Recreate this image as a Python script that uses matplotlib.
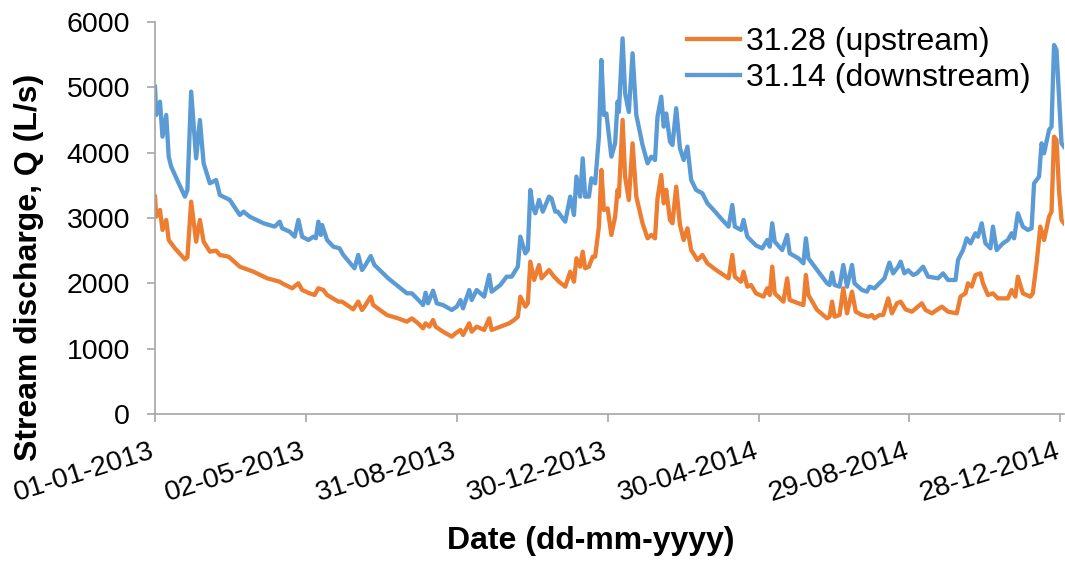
import matplotlib
matplotlib.use("Agg")
import matplotlib.pyplot as plt
import matplotlib.transforms as mtransforms
import numpy as np
import datetime as dt

plt.rcParams['font.family'] = ['Liberation Sans', 'DejaVu Sans']

# ---- data (day offsets from 01-01-2013, discharge in L/s) ----
start_date = dt.date(2013, 1, 1)

up_days = [0, 1, 4, 6, 9, 11, 16, 24, 26, 29, 33, 36, 39, 44, 49, 52, 59, 68, 79, 90,
           100, 102, 110, 115, 118, 124, 128, 131, 135, 138, 147, 150, 159, 163, 166, 168,
           173, 175, 186, 195, 202, 206, 211, 215, 217, 220, 223, 225, 231, 238, 241, 245,
           247, 252, 254, 258, 264, 268, 270, 277, 284, 288, 291, 293, 297, 299, 301, 304,
           308, 310, 316, 320, 324, 329, 333, 336, 338, 341, 343, 345, 348, 351, 353, 356,
           358, 360, 363, 366, 369, 371, 372, 375, 377, 380, 383, 386, 391, 395, 398, 401,
           403, 406, 408, 410, 413, 415, 418, 421, 424, 427, 430, 435, 439, 443, 450, 456,
           460, 463, 465, 470, 472, 475, 478, 482, 488, 491, 493, 495, 497, 504, 507, 509,
           516, 520, 522, 524, 531, 539, 541, 543, 545, 549, 552, 555, 559, 562, 567, 572,
           575, 577, 581, 584, 588, 591, 595, 598, 602, 607, 615, 618, 623, 631, 636, 643,
           646, 650, 652, 655, 658, 662, 664, 668, 672, 676, 684, 687, 690, 692, 696, 702,
           704, 707, 710, 713, 717, 719, 721, 723, 725, 727, 729]
up_vals = [3327, 3020, 3123, 2817, 2970, 2663, 2536, 2367, 2400, 3250, 2638, 2970, 2638, 2485, 2500, 2434, 2408, 2255, 2178, 2077,
           2025, 2000, 1924, 2000, 1898, 1847, 1822, 1924, 1898, 1822, 1720, 1720, 1602, 1720, 1592, 1643,
           1796, 1668, 1515, 1464, 1413, 1464, 1388, 1311, 1388, 1337, 1439, 1337, 1260, 1184, 1235, 1286,
           1209, 1388, 1260, 1337, 1286, 1464, 1286, 1337, 1388, 1439, 1490, 1796, 1643, 1694, 2332, 2051,
           2281, 2077, 2204, 2102, 2025, 1949, 2178, 2025, 2383, 2255, 2485, 2230, 2255, 2408, 2408, 2868,
           3735, 3123, 3148, 2740, 3020, 3429, 3327, 4500, 3633, 3276, 4143, 3327, 2919, 2689, 2740, 2689,
           3301, 3658, 3225, 3429, 2970, 2919, 3480, 2893, 2663, 2842, 2510, 2357, 2434, 2306, 2204, 2128,
           2077, 2434, 2102, 2025, 2179, 1949, 1975, 1847, 1796, 1924, 1822, 2255, 1847, 1720, 2077, 1745,
           1694, 1668, 2128, 1822, 1592, 1464, 1490, 1720, 1490, 1515, 1924, 1541, 1873, 1566, 1515, 1490,
           1515, 1464, 1515, 1515, 1770, 1541, 1694, 1720, 1600, 1566, 1694, 1592, 1541, 1643, 1566, 1541,
           1796, 1847, 2000, 1949, 2128, 2153, 2000, 1822, 1847, 1770, 1770, 1898, 1796, 2102, 1847, 1796,
           1847, 2306, 2868, 2663, 3020, 3097, 4245, 4194, 3429, 2970, 2919]

down_days = [0, 1, 4, 6, 9, 11, 13, 19, 24, 26, 29, 33, 36, 39, 44, 49, 52, 60, 68, 71,
             76, 87, 96, 100, 102, 108, 112, 115, 118, 123, 127, 129, 131, 133, 134, 138, 143, 148,
             151, 160, 163, 166, 168, 173, 176, 187, 197, 202, 206, 210, 215, 217, 219, 223, 226,
             231, 238, 242, 245, 247, 252, 254, 258, 264, 268, 270, 277, 282, 286, 291, 293, 297,
             299, 301, 303, 305, 308, 311, 316, 318, 321, 323, 329, 333, 336, 338, 341, 343, 345,
             348, 350, 353, 356, 358, 360, 362, 366, 369, 371, 372, 375, 377, 380, 383, 386, 391,
             395, 398, 401, 403, 406, 408, 410, 413, 415, 418, 421, 424, 427, 430, 434, 439, 443,
             448, 455, 460, 463, 465, 470, 472, 475, 482, 487, 491, 493, 495, 497, 503, 507, 509,
             516, 520, 522, 524, 532, 539, 541, 543, 545, 549, 552, 555, 559, 561, 567, 571, 573,
             577, 581, 585, 589, 592, 596, 598, 601, 604, 608, 611, 616, 620, 628, 632, 636, 642,
             644, 648, 651, 654, 658, 660, 663, 666, 670, 672, 675, 680, 684, 687, 689, 692, 696,
             700, 703, 705, 709, 711, 713, 717, 719, 721, 723, 725, 727, 729]
down_vals = [5010, 4577, 4780, 4245, 4577, 3939, 3786, 3531, 3327, 3430, 4935, 3913, 4500, 3837, 3531, 3582, 3352, 3276, 3046, 3097,
             3020, 2919, 2868, 2944, 2842, 2791, 2714, 2970, 2714, 2663, 2714, 2690, 2944, 2740, 2893, 2663, 2561, 2536,
             2434, 2230, 2434, 2204, 2255, 2418, 2281, 2077, 1924, 1847, 1847, 1770, 1668, 1857, 1694, 1888, 1694,
             1668, 1592, 1643, 1745, 1617, 1898, 1745, 1898, 1796, 2128, 1872, 1975, 2102, 2102, 2255, 2714, 2459,
             2510, 3429, 3173, 3072, 3276, 3097, 3327, 3300, 3097, 3097, 2944, 3327, 3046, 3633, 3327, 3913, 3327,
             3327, 3608, 3531, 4245, 5419, 4577, 4600, 3939, 4143, 4781, 4623, 5750, 4909, 4623, 5521, 4577, 4117,
             3837, 3939, 3888, 4551, 4857, 4398, 4600, 4168, 4117, 4680, 4066, 3888, 4092, 3582, 3429, 3378, 3225,
             3123, 2970, 2868, 3199, 2868, 2817, 2970, 2714, 2580, 2536, 2663, 2561, 2919, 2638, 2510, 2740, 2459,
             2383, 2306, 2689, 2383, 2178, 2000, 1975, 2163, 1975, 1949, 2281, 1949, 2281, 2000, 1898, 1873, 1949,
             1924, 2000, 2077, 2317, 2153, 2255, 2332, 2153, 2200, 2128, 2153, 2255, 2102, 2077, 2153, 2051, 2051,
             2357, 2510, 2689, 2612, 2766, 2714, 2919, 2612, 2536, 2868, 2510, 2612, 2663, 2766, 2689, 3072, 2868,
             2817, 2842, 3531, 3633, 4143, 3990, 4347, 4398, 5648, 5572, 4857, 4143, 4092]

series_labels = ['31.28 (upstream)', '31.14 (downstream)']
tick_days = [0, 121, 242, 363, 484, 605, 726]
tick_labels = ['01-01-2013', '02-05-2013', '31-08-2013', '30-12-2013',
               '30-04-2014', '29-08-2014', '28-12-2014']
y_ticks = [0, 1000, 2000, 3000, 4000, 5000, 6000]

# ---- plotting ----
def to_dates(days):
    return [start_date + dt.timedelta(days=int(d)) for d in days]

W, H = 1065, 561
AX_L, AX_R, AX_T, AX_B = 155, 1064, 22, 414
fig = plt.figure(figsize=(W / 100, H / 100), dpi=100)
ax = fig.add_axes([AX_L / W, 1 - AX_B / H, (AX_R - AX_L) / W, (AX_B - AX_T) / H])

orange = '#ED7D31'
blue = '#5B9BD5'
ax.plot(to_dates(up_days), up_vals, color=orange, lw=3.1, label=series_labels[0],
        solid_joinstyle='round')
ax.plot(to_dates(down_days), down_vals, color=blue, lw=3.1, label=series_labels[1],
        solid_joinstyle='round')

ax.set_xlim(start_date, start_date + dt.timedelta(days=729))
ax.set_ylim(0, 6000)
ax.set_yticks(y_ticks)
ax.set_yticklabels([str(v) for v in y_ticks], fontsize=20.5)
tick_dates = to_dates(tick_days)
ax.set_xticks(tick_dates)
ax.set_xticklabels([])

# rotated date labels, anchored at their top-right corner just below each tick
lbl_tr = ax.get_xaxis_transform() + mtransforms.ScaledTranslation(
    -5 / 100, -24 / 100, fig.dpi_scale_trans)
for d, lab in zip(tick_dates, tick_labels):
    ax.text(d, 0, lab, transform=lbl_tr, fontsize=20.5, rotation=17.5,
            rotation_mode='anchor', ha='right', va='top', clip_on=False)

gray = '#A6A6A6'
for s in ['top', 'right']:
    ax.spines[s].set_visible(False)
for s in ['left', 'bottom']:
    ax.spines[s].set_color(gray)
    ax.spines[s].set_linewidth(1.2)
ax.tick_params(axis='both', direction='out', length=6, width=1.2, color=gray,
               labelcolor='black')
ax.tick_params(axis='y', pad=12)

ax.set_ylabel('Stream discharge, Q (L/s)', fontsize=23, fontweight='bold')
ax.yaxis.set_label_coords((44 - AX_L) / (AX_R - AX_L), (AX_B - 267) / (AX_B - AX_T))
ax.set_xlabel('Date (dd-mm-yyyy)', fontsize=23, fontweight='bold')
ax.xaxis.set_label_coords((591 - AX_L) / (AX_R - AX_L), (AX_B - 526) / (AX_B - AX_T))

leg = ax.legend(loc='upper left', bbox_to_anchor=(687 / W, 1 - 27 / H),
                bbox_transform=fig.transFigure, frameon=False, fontsize=23,
                handlelength=1.65, handletextpad=0.2, labelspacing=0.2,
                borderpad=0, borderaxespad=0)

fig.savefig('out.png', dpi=100)
